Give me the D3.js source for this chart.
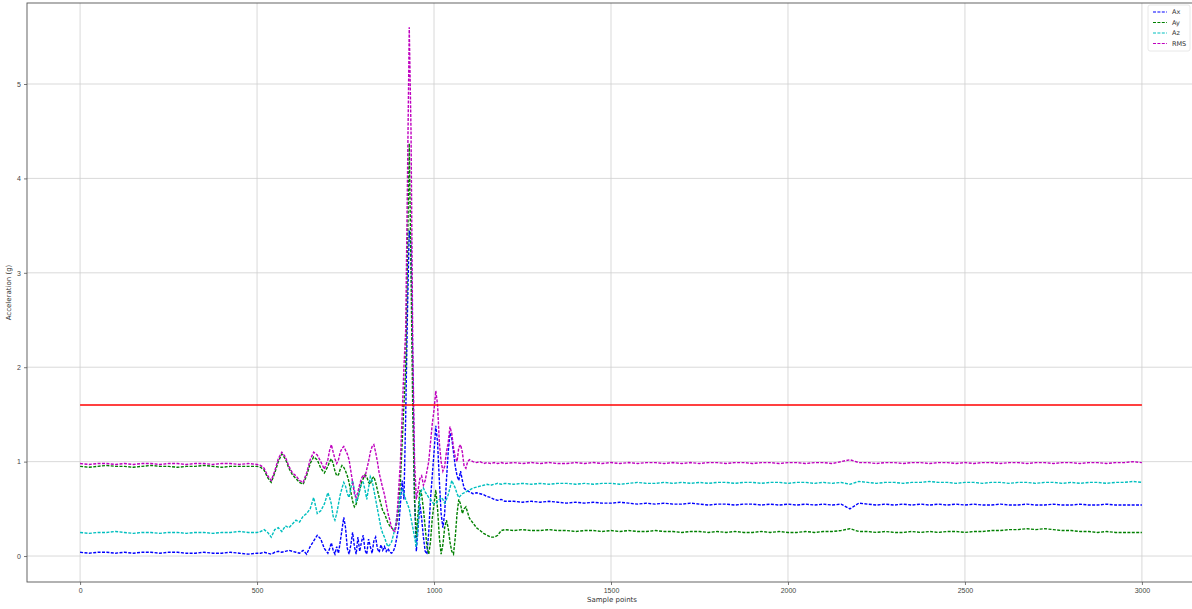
<!DOCTYPE html>
<html>
<head>
<meta charset="utf-8">
<script src="https://cdn.jsdelivr.net/npm/d3@7"></script>
<style>
  html, body { margin: 0; padding: 0; background: #fff; }
  svg { display: block; font-family: "DejaVu Sans", sans-serif; }
</style>
</head>
<body>
<svg id="chart" width="1192" height="609"></svg>
<script>
// Sample indices: coarse over the quiet stretches, finer through the impact
const samples = [].concat(
  d3.range(0, 501, 25),      // 21
  d3.range(510, 700, 10),    // 19
  d3.range(700, 1100, 5),    // 80
  d3.range(1100, 1201, 10),  // 11
  d3.range(1225, 3001, 25)   // 72
);

const ax = [
  // 0 - 500
  0.04,0.03,0.04,0.04,0.03,0.04,0.03,0.04,0.04,0.03,0.04,0.04,0.03,0.03,0.04,0.03,0.03,0.04,0.03,0.02,0.03,
  // 510 - 690
  0.03,0.04,0.03,0.02,0.04,0.05,0.04,0.05,0.06,0.05,0.04,0.03,0.06,0.02,0.10,0.16,0.22,0.18,0.08,
  // 700 - 1095
  0.03,0.08,0.14,0.06,0.02,0.10,0.03,0.15,0.28,0.41,
  0.30,0.08,0.02,0.12,0.25,0.10,0.02,0.20,0.05,0.15,
  0.22,0.06,0.02,0.18,0.10,0.03,0.16,0.20,0.08,0.04,
  0.12,0.06,0.10,0.05,0.08,0.04,0.03,0.05,0.10,0.20,
  0.30,0.55,0.80,0.60,1.50,2.60,3.45,3.30,2.00,0.60,
  0.05,0.30,0.55,0.40,0.20,0.05,0.02,0.25,0.60,0.85,
  1.10,1.38,1.20,0.80,0.45,0.30,0.45,0.80,1.10,1.30,
  1.25,1.10,0.95,0.85,0.80,0.90,0.80,0.72,0.70,0.69,
  // 1100 - 1200
  0.68,0.66,0.67,0.66,0.65,0.63,0.62,0.60,0.59,0.60,0.58,
  // 1225 - 3000
  0.58,0.57,0.58,0.57,0.58,0.57,0.56,0.57,0.56,0.57,0.56,0.56,0.57,0.56,0.55,0.56,0.55,0.56,0.55,0.55,
  0.56,0.55,0.54,0.55,0.55,0.54,0.55,0.55,0.54,0.55,0.54,0.55,0.54,0.55,0.54,0.55,0.54,0.55,0.50,0.56,
  0.55,0.54,0.55,0.54,0.55,0.54,0.55,0.54,0.55,0.54,0.55,0.54,0.55,0.54,0.54,0.55,0.54,0.54,0.55,0.54,
  0.54,0.55,0.54,0.54,0.55,0.54,0.54,0.55,0.54,0.54,0.54,0.54
];

const ay = [
  0.95,0.94,0.95,0.96,0.95,0.95,0.94,0.95,0.96,0.95,0.95,0.94,0.95,0.95,0.96,0.95,0.94,0.95,0.95,0.95,0.95,
  0.94,0.91,0.83,0.78,0.88,1.00,1.08,1.03,0.93,0.86,0.82,0.78,0.76,0.85,0.98,1.05,1.02,0.93,0.88,
  0.95,1.00,1.03,0.98,0.90,0.85,0.86,0.92,0.96,0.94,
  0.90,0.85,0.78,0.68,0.58,0.52,0.55,0.62,0.70,0.78,
  0.82,0.86,0.84,0.78,0.76,0.82,0.84,0.78,0.70,0.62,
  0.55,0.48,0.45,0.40,0.35,0.32,0.30,0.28,0.28,0.35,
  0.50,0.80,1.20,1.60,2.00,3.20,4.37,3.00,1.50,0.60,
  0.20,0.45,0.70,0.65,0.50,0.30,0.10,0.02,0.15,0.40,
  0.55,0.70,0.50,0.20,0.02,0.12,0.30,0.38,0.30,0.15,
  0.05,0.02,0.20,0.45,0.60,0.55,0.45,0.50,0.52,0.46,
  0.40,0.35,0.30,0.27,0.24,0.22,0.20,0.20,0.22,0.27,0.28,
  0.27,0.28,0.27,0.27,0.28,0.27,0.27,0.26,0.27,0.27,0.26,0.27,0.26,0.27,0.26,0.26,0.27,0.26,0.26,0.25,
  0.26,0.26,0.25,0.26,0.25,0.26,0.25,0.25,0.26,0.25,0.26,0.25,0.25,0.26,0.25,0.26,0.26,0.27,0.29,0.26,
  0.26,0.25,0.26,0.25,0.25,0.26,0.25,0.26,0.25,0.26,0.26,0.25,0.26,0.26,0.27,0.27,0.28,0.28,0.29,0.28,
  0.29,0.28,0.27,0.27,0.26,0.26,0.25,0.26,0.25,0.25,0.25,0.25
];

const az = [
  0.25,0.24,0.25,0.25,0.26,0.25,0.24,0.25,0.25,0.24,0.25,0.25,0.24,0.25,0.25,0.24,0.25,0.25,0.26,0.25,0.25,
  0.26,0.28,0.25,0.20,0.28,0.30,0.26,0.32,0.30,0.34,0.38,0.36,0.42,0.45,0.50,0.62,0.45,0.48,0.55,
  0.67,0.62,0.55,0.42,0.38,0.45,0.55,0.65,0.72,0.78,
  0.74,0.66,0.62,0.72,0.80,0.70,0.58,0.62,0.70,0.76,
  0.78,0.70,0.60,0.72,0.84,0.80,0.70,0.60,0.50,0.40,
  0.30,0.24,0.20,0.14,0.10,0.12,0.15,0.22,0.30,0.42,
  0.55,0.65,0.70,0.66,0.60,0.55,0.50,0.40,0.30,0.20,
  0.10,0.35,0.62,0.70,0.72,0.68,0.65,0.62,0.60,0.57,
  0.55,0.56,0.58,0.60,0.62,0.60,0.56,0.60,0.65,0.72,
  0.80,0.76,0.72,0.66,0.62,0.64,0.66,0.67,0.68,0.69,
  0.70,0.72,0.73,0.74,0.75,0.76,0.75,0.76,0.77,0.76,0.77,
  0.76,0.77,0.76,0.77,0.76,0.77,0.77,0.76,0.77,0.76,0.77,0.77,0.76,0.77,0.78,0.77,0.77,0.78,0.77,0.78,
  0.77,0.78,0.77,0.78,0.78,0.77,0.78,0.78,0.77,0.78,0.78,0.77,0.78,0.78,0.77,0.78,0.77,0.78,0.76,0.79,
  0.78,0.77,0.78,0.78,0.77,0.78,0.78,0.79,0.78,0.78,0.77,0.78,0.78,0.77,0.78,0.78,0.77,0.78,0.78,0.77,
  0.78,0.78,0.77,0.78,0.77,0.78,0.78,0.77,0.78,0.78,0.79,0.78
];

const rms = [
  0.98,0.97,0.98,0.98,0.97,0.98,0.97,0.98,0.98,0.97,0.98,0.98,0.97,0.98,0.98,0.97,0.98,0.98,0.97,0.98,0.97,
  0.96,0.93,0.85,0.80,0.90,1.03,1.10,1.05,0.95,0.88,0.85,0.80,0.78,0.88,1.02,1.10,1.07,1.00,0.92,
  1.02,1.12,1.18,1.10,1.03,0.98,1.02,1.10,1.14,1.16,
  1.12,1.08,1.02,0.90,0.78,0.66,0.62,0.68,0.76,0.82,
  0.86,0.84,0.92,1.00,1.10,1.16,1.18,1.10,1.00,0.88,
  0.80,0.72,0.65,0.55,0.45,0.38,0.30,0.27,0.26,0.40,
  0.70,1.00,1.50,2.00,2.40,4.00,5.60,4.50,2.20,1.00,
  0.60,0.70,0.82,0.85,0.75,0.80,0.90,1.00,1.20,1.40,
  1.55,1.75,1.60,1.20,1.00,0.90,0.95,1.10,1.20,1.37,
  1.30,1.15,1.05,1.00,1.15,1.18,1.10,0.95,0.93,1.00,
  1.02,1.00,0.99,1.00,0.98,0.99,0.98,0.99,0.98,0.99,0.98,
  0.99,0.98,0.99,0.98,0.99,0.98,0.98,0.99,0.98,0.99,0.98,0.99,0.98,0.99,0.98,0.99,0.99,0.98,0.99,0.98,
  0.99,0.98,0.99,0.99,0.98,0.99,0.99,0.98,0.99,0.99,0.98,0.99,0.99,0.98,0.99,0.99,0.98,1.00,1.02,0.99,
  0.99,0.98,0.99,0.99,0.98,0.99,0.99,0.98,0.99,0.99,0.98,0.99,0.98,0.99,0.99,0.98,0.99,0.99,0.98,0.99,
  0.99,0.98,0.99,0.99,0.98,0.99,0.99,0.98,0.99,0.99,1.00,0.99
];

// Alarm threshold (g)
const threshold = 1.6;

const xTicks = [0, 500, 1000, 1500, 2000, 2500, 3000];
const yTicks = [0, 1, 2, 3, 4, 5];

const seriesNames = ["Ax", "Ay", "Az", "RMS"];
const seriesValues = [ax, ay, az, rms];
const seriesColors = ["#0000ff", "#008000", "#00bfbf", "#bf00bf"];

const svg = d3.select("#chart");
const plot = { left: 27, top: 3, right: 1195, bottom: 582 };

const x = d3.scaleLinear().domain([-150, 3150]).range([plot.left, plot.right]);
const y = d3.scaleLinear().domain([-0.275, 5.858]).range([plot.bottom, plot.top]);

svg.append("defs").append("clipPath").attr("id", "plot-clip")
  .append("rect")
  .attr("x", plot.left).attr("y", plot.top)
  .attr("width", plot.right - plot.left).attr("height", plot.bottom - plot.top);

// Grid
const grid = svg.append("g").attr("stroke", "#cfcfcf").attr("stroke-width", 0.8);
grid.selectAll("line.gx").data(xTicks).join("line")
  .attr("x1", d => x(d)).attr("x2", d => x(d))
  .attr("y1", plot.top).attr("y2", plot.bottom);
grid.selectAll("line.gy").data(yTicks).join("line")
  .attr("x1", plot.left).attr("x2", plot.right)
  .attr("y1", d => y(d)).attr("y2", d => y(d));

// Axes
const xAxis = svg.append("g")
  .attr("transform", `translate(0,${plot.bottom})`)
  .call(d3.axisBottom(x).tickValues(xTicks).tickSize(3).tickPadding(3).tickFormat(d3.format("d")));
const yAxis = svg.append("g")
  .attr("transform", `translate(${plot.left},0)`)
  .call(d3.axisLeft(y).tickValues(yTicks).tickSize(3).tickPadding(3).tickFormat(d3.format("d")));

[xAxis, yAxis].forEach(g => {
  g.select(".domain").remove();
  g.selectAll(".tick line").attr("stroke", "#555").attr("stroke-width", 0.8);
  g.selectAll(".tick text").attr("fill", "#444").style("font-size", "7px");
});

// Frame
svg.append("rect")
  .attr("x", plot.left).attr("y", plot.top)
  .attr("width", plot.right - plot.left).attr("height", plot.bottom - plot.top)
  .attr("fill", "none").attr("stroke", "#555").attr("stroke-width", 0.9);

// Series
const line = d3.line()
  .x((d, i) => x(samples[i]))
  .y(d => y(d));

const lines = svg.append("g").attr("clip-path", "url(#plot-clip)");
seriesValues.forEach((vals, k) => {
  lines.append("path")
    .datum(vals)
    .attr("d", line)
    .attr("fill", "none")
    .attr("stroke", seriesColors[k])
    .attr("stroke-width", 1.4)
    .attr("stroke-dasharray", "3,1.4");
});

// Threshold line
lines.append("line")
  .attr("x1", x(0)).attr("x2", x(3000))
  .attr("y1", y(threshold)).attr("y2", y(threshold))
  .attr("stroke", "#ff0000").attr("stroke-width", 1.5);

// Axis titles
svg.append("text")
  .attr("x", (x(0) + x(3000)) / 2 + 1).attr("y", 602)
  .attr("text-anchor", "middle").attr("fill", "#333")
  .style("font-size", "7px").text("Sample points");
svg.append("text")
  .attr("transform", `translate(11,${(plot.top + plot.bottom) / 2}) rotate(-90)`)
  .attr("text-anchor", "middle").attr("fill", "#333")
  .style("font-size", "7px").text("Acceleration (g)");

// Legend
const legend = svg.append("g").attr("transform", "translate(1148,5)");
legend.append("rect")
  .attr("x", 0).attr("y", 0).attr("width", 42).attr("height", 46).attr("rx", 2)
  .attr("fill", "#fff").attr("fill-opacity", 0.85)
  .attr("stroke", "#e2e2e2").attr("stroke-width", 0.8);
seriesNames.forEach((name, k) => {
  const ly = 7 + k * 10.5;
  legend.append("line")
    .attr("x1", 5).attr("x2", 19).attr("y1", ly).attr("y2", ly)
    .attr("stroke", seriesColors[k]).attr("stroke-width", 1.2)
    .attr("stroke-dasharray", "3,1.4");
  legend.append("text")
    .attr("x", 24).attr("y", ly + 2.3)
    .attr("fill", "#333").style("font-size", "6.5px").text(name);
});
</script>
</body>
</html>
